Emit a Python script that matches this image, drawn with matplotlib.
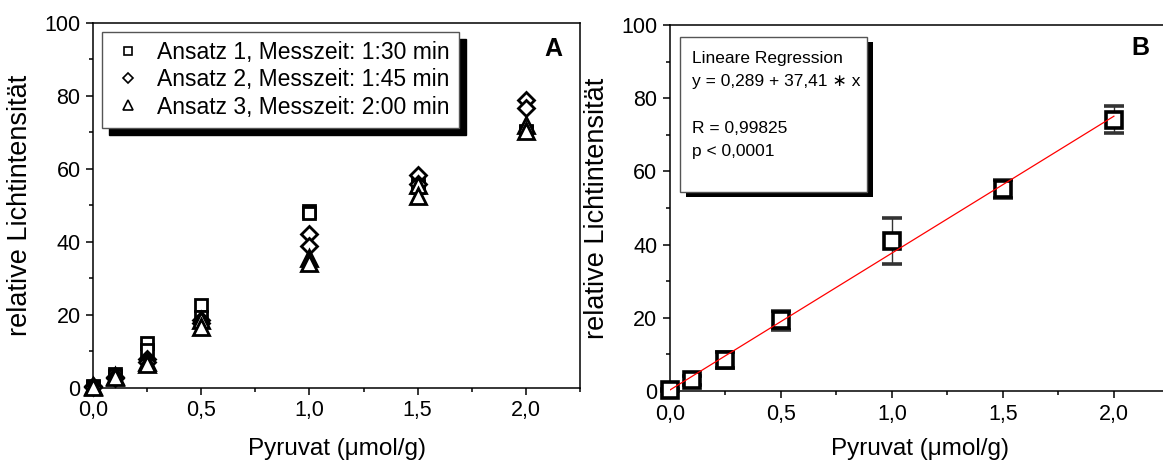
import matplotlib
matplotlib.use("Agg")
from matplotlib import pyplot as plt
from matplotlib.lines import Line2D
from matplotlib.patches import Rectangle
from matplotlib.ticker import MultipleLocator, FixedLocator

plt.rcParams['font.family'] = ['Liberation Sans', 'DejaVu Sans']

# Pyruvat concentrations (umol/g)
pyruvat = [0.0, 0.1, 0.25, 0.5, 1.0, 1.5, 2.0]

# panel A: three runs, two readings each
ansatz1_a = [0.5, 3.8, 12.3, 22.8, 48.5, 56.0, 70.5]
ansatz1_b = [0.3, 3.2, 10.5, 19.5, 48.0, 55.0, 70.0]
ansatz2_a = [0.5, 3.0, 8.0, 18.5, 42.3, 58.3, 79.0]
ansatz2_b = [0.2, 2.8, 7.2, 17.8, 38.8, 56.0, 76.6]
ansatz3_a = [0.5, 3.3, 7.2, 18.5, 35.5, 55.5, 72.0]
ansatz3_b = [0.2, 3.0, 6.5, 16.8, 34.2, 52.5, 70.5]
labels_a = ['Ansatz 1, Messzeit: 1:30 min',
            'Ansatz 2, Messzeit: 1:45 min',
            'Ansatz 3, Messzeit: 2:00 min']

# panel B: means with standard deviation
mittel = [0.3, 2.9, 8.6, 19.3, 41.0, 55.2, 74.2]
stabw = [0.4, 1.2, 2.2, 2.6, 6.3, 2.4, 3.8]
intercept = 0.289
slope = 37.41
reg_text = 'Lineare Regression\ny = 0,289 + 37,41 \u2217 x\n\nR = 0,99825\np < 0,0001'

xticks = [0.0, 0.5, 1.0, 1.5, 2.0]
xticklabels = ['0,0', '0,5', '1,0', '1,5', '2,0']
yticks = [0, 20, 40, 60, 80, 100]

fig = plt.figure(figsize=(11.63, 4.65), dpi=100)
axA = fig.add_axes([0.080, 0.1656, 0.4187, 0.785])
axB = fig.add_axes([0.576, 0.159, 0.4295, 0.787])


def style(ax, xpad):
    ax.set_xlim(0, 2.25)
    ax.set_ylim(0, 100)
    ax.xaxis.set_major_locator(FixedLocator(xticks))
    ax.set_xticklabels(xticklabels)
    ax.xaxis.set_minor_locator(MultipleLocator(0.25))
    ax.set_yticks(yticks)
    ax.yaxis.set_minor_locator(MultipleLocator(10))
    ax.tick_params(which='both', direction='out', labelsize=15.5, width=1.1,
                   top=False, right=False, pad=4)
    ax.tick_params(which='major', length=5)
    ax.tick_params(which='minor', length=3)
    for s in ax.spines.values():
        s.set_linewidth(1.1)
    ax.set_xlabel('Pyruvat (\u03bcmol/g)', fontsize=17.5, labelpad=xpad)
    ax.set_ylabel('relative Lichtintensit\u00e4t', fontsize=19.5, labelpad=8)


style(axA, 12)
style(axB, 10)

# ---- panel A
mk = dict(linestyle='none', markerfacecolor='white', markeredgecolor='black',
          markeredgewidth=2.0, clip_on=False)
for vals in (ansatz1_a, ansatz1_b):
    axA.plot(pyruvat, vals, marker='s', markersize=9, zorder=3, **mk)
for vals in (ansatz2_a, ansatz2_b):
    axA.plot(pyruvat, vals, marker='D', markersize=8.5, zorder=4, **mk)
for vals in (ansatz3_a, ansatz3_b):
    axA.plot(pyruvat, vals, marker='^', markersize=11, zorder=5, **mk)

handles = [Line2D([], [], linestyle='none', marker=m, markersize=ms,
                  markerfacecolor='white', markeredgecolor='black',
                  markeredgewidth=1.2)
           for m, ms in (('s', 5.5), ('D', 5.5), ('^', 7))]
leg = axA.legend(handles, labels_a, loc='upper left',
                 bbox_to_anchor=(0.018, 0.975), fontsize=16.5,
                 frameon=True, fancybox=False, borderpad=0.4,
                 labelspacing=0.18, handletextpad=0.5, handlelength=1.5,
                 borderaxespad=0,
                 shadow={'color': 'black', 'alpha': 1, 'ox': 5, 'oy': -5})
leg.get_frame().set_edgecolor('#555555')
leg.get_frame().set_linewidth(1.0)

axA.text(0.946, 0.93, 'A', transform=axA.transAxes, fontsize=18,
         fontweight='bold', ha='center', va='center')

# ---- panel B
xfit = [pyruvat[0], pyruvat[-1]]
yfit = [intercept + slope * x for x in xfit]
axB.plot(xfit, yfit, color='red', linewidth=0.9, zorder=4)
axB.errorbar(pyruvat, mittel, yerr=stabw, fmt='s', markersize=11,
             markerfacecolor='white', markeredgecolor='black',
             markeredgewidth=2.6, ecolor='#333333', elinewidth=1.0,
             capsize=7, capthick=1.0, zorder=3, clip_on=False)

axB.add_patch(Rectangle((0.032, 0.53), 0.374, 0.423, transform=axB.transAxes,
                        facecolor='black', edgecolor='none', zorder=6))
axB.add_patch(Rectangle((0.02, 0.544), 0.374, 0.423, transform=axB.transAxes,
                        facecolor='white', edgecolor='#555555',
                        linewidth=1.0, zorder=7))
axB.text(0.044, 0.93, reg_text, transform=axB.transAxes, fontsize=12.5,
         ha='left', va='top', linespacing=1.7, zorder=8)

axB.text(0.941, 0.937, 'B', transform=axB.transAxes, fontsize=18,
         fontweight='bold', ha='center', va='center')

plt.savefig('out.png', dpi=100)
